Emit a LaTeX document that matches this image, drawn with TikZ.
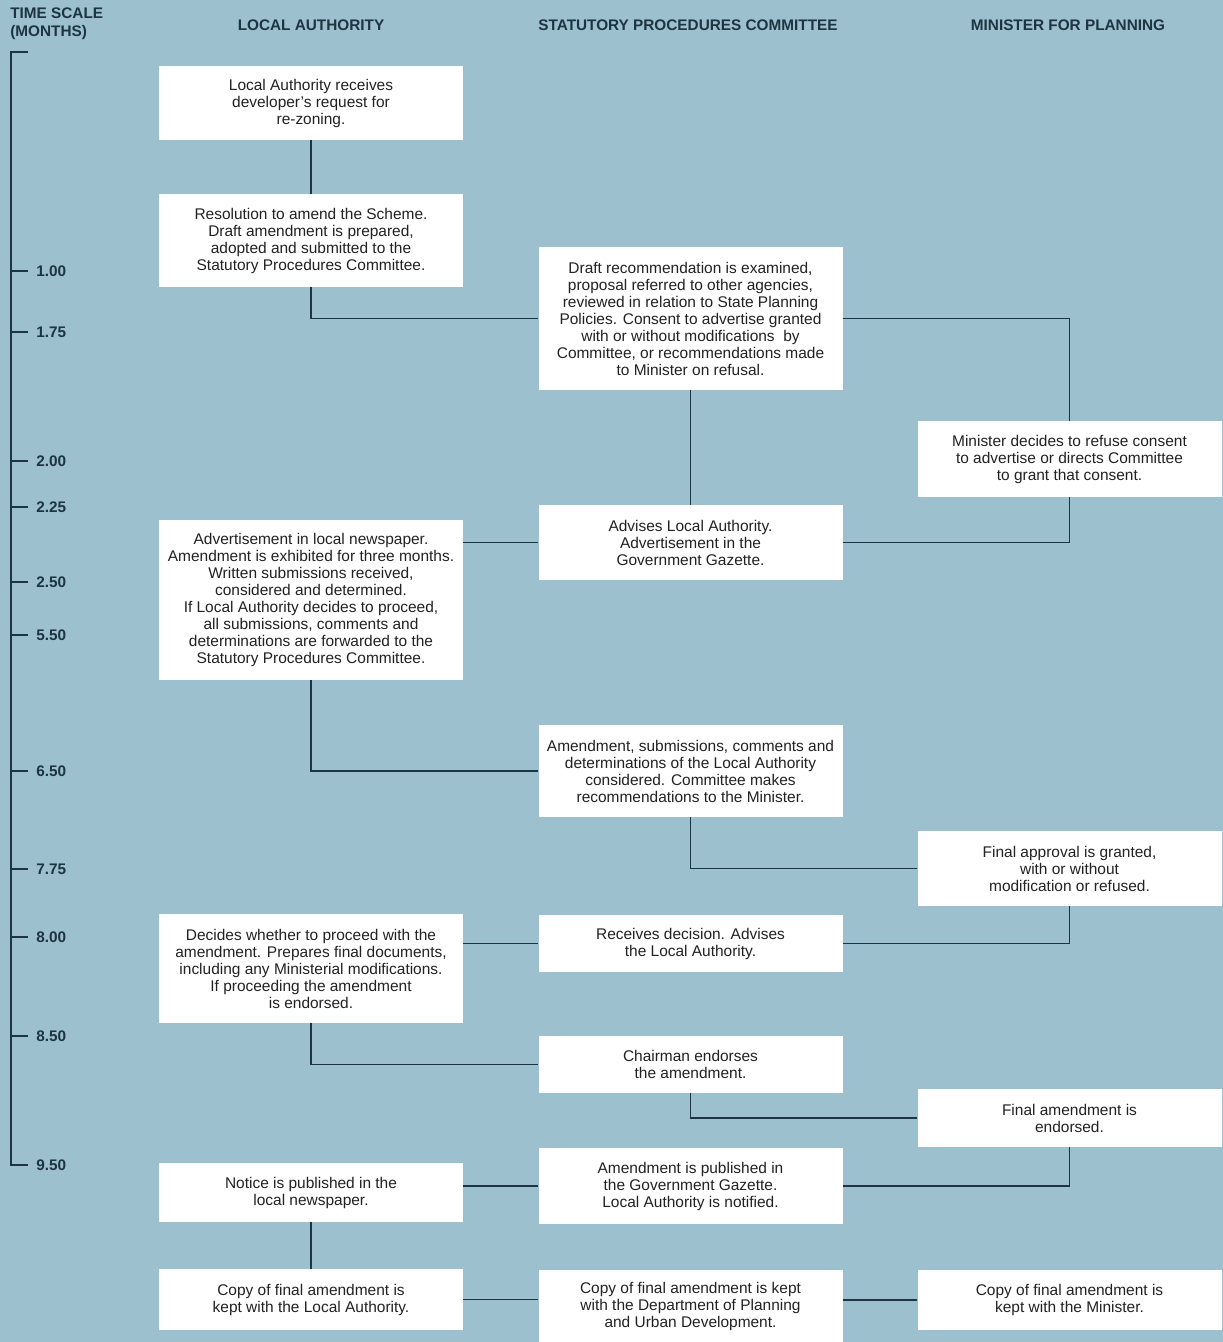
\documentclass[tikz,border=0pt]{standalone}
\usepackage{fontspec}
\setmainfont{Liberation Sans}
\definecolor{bgblue}{HTML}{9CC0CE}
\definecolor{linecol}{HTML}{1E3442}
\definecolor{txtcol}{HTML}{222222}
\begin{document}
\begin{tikzpicture}[x=0.75pt,y=-0.75pt,
  box/.style={fill=white,draw=none,align=center,inner sep=2pt,text=txtcol,
    font=\fontsize{11.6}{12.75}\selectfont,minimum width=228pt},
  hdr/.style={font=\fontsize{11.5}{13}\selectfont\bfseries,text=linecol,inner sep=0pt},
  tlab/.style={font=\fontsize{11.5}{13}\selectfont\bfseries,text=linecol,anchor=west,inner sep=0pt},
  conn/.style={draw=linecol,line width=1pt}]
\fill[bgblue] (0,0) rectangle (1223,1342);
\useasboundingbox (0,0) rectangle (1223,1342);

% headers
\node[hdr,align=left,anchor=north west] (hts) at (10,8) {TIME SCALE\\(MONTHS)};
\node[hdr] (hla) at (311,25) {LOCAL AUTHORITY};
\node[hdr] (hspc) at (688,25) {STATUTORY PROCEDURES COMMITTEE};
\node[hdr] (hmin) at (1068,25) {MINISTER FOR PLANNING};

% time scale
\draw[conn] (28,52) -- (11,52) -- (11,1165) -- (28,1165);
\foreach \yy/\lab in {271/1.00,332/1.75,461/2.00,507/2.25,582/2.50,635/5.50,771/6.50,869/7.75,937/8.00,1036/8.50}{
  \draw[conn] (11,\yy) -- (28,\yy);
  \node[tlab] at (36,\yy) {\lab};
}
\node[tlab] at (36,1165) {9.50};

% boxes
\node[box,minimum height=55.5pt] (LA1) at (311,103) {Local Authority receives\\developer's request for\\re-zoning.};
\node[box,minimum height=69.75pt] (LA2) at (311,240.5) {Resolution to amend the Scheme.\\Draft amendment is prepared,\\adopted and submitted to the\\Statutory Procedures Committee.};
\node[box,minimum height=107.25pt] (SPC1) at (690.5,318.5) {Draft recommendation is examined,\\proposal referred to other agencies,\\reviewed in relation to State Planning\\Policies. Consent to advertise granted\\with or without modifications\ \ by\\Committee, or recommendations made\\to Minister on refusal.};
\node[box,minimum height=57pt] (MIN1) at (1069.5,459) {Minister decides to refuse consent\\to advertise or directs Committee\\to grant that consent.};
\node[box,minimum height=56.25pt] (SPC2) at (690.5,542.5) {Advises Local Authority.\\Advertisement in the\\Government Gazette.};
\node[box,minimum height=120pt] (LA3) at (311,600) {Advertisement in local newspaper.\\Amendment is exhibited for three months.\\Written submissions received,\\considered and determined.\\If Local Authority decides to proceed,\\all submissions, comments and\\determinations are forwarded to the\\Statutory Procedures Committee.};
\node[box,minimum height=69pt] (SPC3) at (690.5,771) {Amendment, submissions, comments and\\determinations of the Local Authority\\considered. Committee makes\\recommendations to the Minister.};
\node[box,minimum height=56.25pt] (MIN2) at (1069.5,868.5) {Final approval is granted,\\with or without\\modification or refused.};
\node[box,minimum height=81.75pt] (LA4) at (311,968.5) {Decides whether to proceed with the\\amendment. Prepares final documents,\\including any Ministerial modifications.\\If proceeding the amendment\\is endorsed.};
\node[box,minimum height=42.75pt] (SPC4) at (690.5,943.5) {Receives decision. Advises\\the Local Authority.};
\node[box,minimum height=42.75pt] (SPC5) at (690.5,1064.5) {Chairman endorses\\the amendment.};
\node[box,minimum height=43.5pt] (MIN3) at (1069.5,1118) {Final amendment is\\endorsed.};
\node[box,minimum height=57pt] (SPC6) at (690.5,1186) {Amendment is published in\\the Government Gazette.\\Local Authority is notified.};
\node[box,minimum height=44.25pt] (LA5) at (311,1192.5) {Notice is published in the\\local newspaper.};
\node[box,minimum height=45.75pt] (LA6) at (311,1299.5) {Copy of final amendment is\\kept with the Local Authority.};
\node[box,minimum height=54pt] (SPC7) at (690.5,1306) {Copy of final amendment is kept\\with the Department of Planning\\and Urban Development.};
\node[box,minimum height=45pt] (MIN4) at (1069.5,1300) {Copy of final amendment is\\kept with the Minister.};

% connectors
\draw[conn] (LA1.south) -- (LA2.north);
\draw[conn] (LA2.south) |- (SPC1.west);
\draw[conn] (SPC1.east) -| (MIN1.north);
\draw[conn] (SPC1.south) -- (SPC2.north);
\draw[conn] (MIN1.south) |- (SPC2.east);
\draw[conn] (SPC2.west) -- (SPC2.west -| LA3.east);
\draw[conn] (LA3.south) |- (SPC3.west);
\draw[conn] (SPC3.south) |- (MIN2.west);
\draw[conn] (MIN2.south) |- (SPC4.east);
\draw[conn] (SPC4.west) -- (SPC4.west -| LA4.east);
\draw[conn] (LA4.south) |- (SPC5.west);
\draw[conn] (SPC5.south) |- (MIN3.west);
\draw[conn] (MIN3.south) |- (SPC6.east);
\draw[conn] (SPC6.west) -- (SPC6.west -| LA5.east);
\draw[conn] (LA5.south) -- (LA6.north);
\draw[conn] (LA6.east) -- (LA6.east -| SPC7.west);
\draw[conn] (MIN4.west -| SPC7.east) -- (MIN4.west);
\end{tikzpicture}
\end{document}
